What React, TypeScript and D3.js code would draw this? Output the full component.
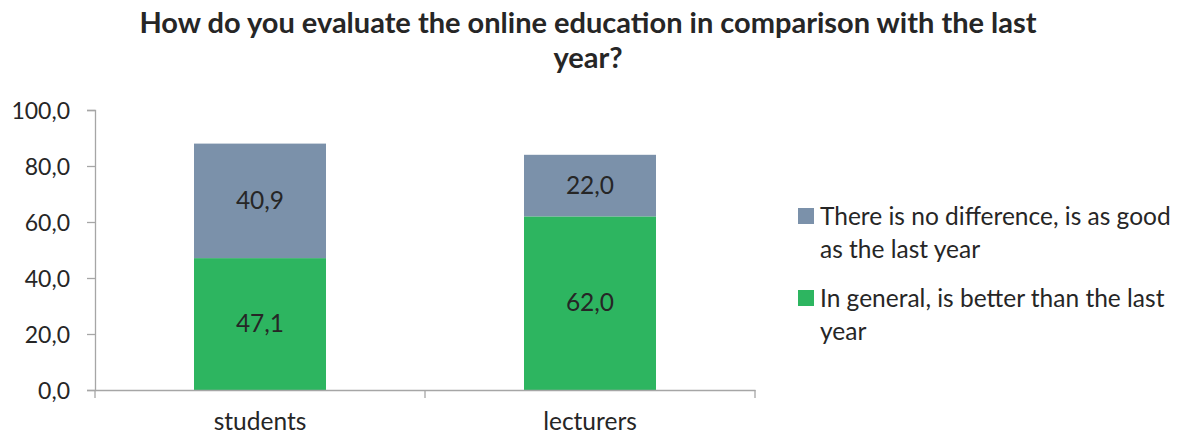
import { useEffect, useRef } from 'react'
import * as d3 from 'd3'

const categories = ['students', 'lecturers']
const betterValues = [47.1, 62.0]
const sameValues = [40.9, 22.0]
const yTicks = [0, 20, 40, 60, 80, 100]
const seriesNames = [
  ['There is no difference, is as good', 'as the last year'],
  ['In general, is better than the last', 'year'],
]
const titleLines = ['How do you evaluate the online education in comparison with the last', 'year?']

const W = 1181
const H = 436
const FONT = 'Lato, "Open Sans", sans-serif'
const BLUE = '#7b91aa'
const GREEN = '#2db560'
const TEXT = '#262626'

export default function App() {
  const svgRef = useRef<SVGSVGElement>(null)

  useEffect(() => {
    if (!svgRef.current) return
    const svg = d3.select(svgRef.current)
    svg.selectAll('*').remove()

    const left = 95
    const right = 755
    const top = 110
    const bottom = 390

    const fmt = (v: number) => v.toFixed(1).replace('.', ',')

    const x = d3.scaleBand<string>().domain(categories).range([left, right]).paddingInner(0).paddingOuter(0)
    const y = d3.scaleLinear().domain([0, 100]).range([bottom, top])
    const barW = x.bandwidth() * 0.4

    // title
    svg.append('g')
      .selectAll('text')
      .data(titleLines)
      .join('text')
      .attr('x', 588)
      .attr('y', (_, i) => 33 + i * 35)
      .attr('text-anchor', 'middle')
      .attr('font-family', FONT)
      .attr('font-weight', 'bold')
      .attr('font-size', 29)
      .attr('fill', TEXT)
      .text(d => d)

    // bars
    const stacks = categories.map((c, i) => ({ c, better: betterValues[i], same: sameValues[i] }))
    const g = svg.append('g')
    stacks.forEach(d => {
      const bx = x(d.c)! + (x.bandwidth() - barW) / 2
      g.append('rect')
        .attr('x', bx).attr('width', barW)
        .attr('y', y(d.better)).attr('height', y(0) - y(d.better))
        .attr('fill', GREEN)
      g.append('rect')
        .attr('x', bx).attr('width', barW)
        .attr('y', y(d.better + d.same)).attr('height', y(d.better) - y(d.better + d.same))
        .attr('fill', BLUE)
      const cx = x(d.c)! + x.bandwidth() / 2
      g.append('text')
        .attr('x', cx).attr('y', y(d.better / 2) + 8)
        .attr('text-anchor', 'middle')
        .attr('font-family', FONT).attr('font-size', 24.5).attr('fill', TEXT)
        .text(fmt(d.better))
      g.append('text')
        .attr('x', cx).attr('y', y(d.better + d.same / 2) + 8)
        .attr('text-anchor', 'middle')
        .attr('font-family', FONT).attr('font-size', 24.5).attr('fill', TEXT)
        .text(fmt(d.same))
    })

    // y axis
    const yAxis = svg.append('g')
      .attr('transform', `translate(${left},0)`)
      .call(d3.axisLeft(y).tickValues(yTicks).tickSize(8).tickPadding(17).tickFormat(d => fmt(d as number)))
    yAxis.select('.domain').attr('stroke', '#a6a6a6').attr('stroke-width', 1.3)
    yAxis.selectAll('.tick line').attr('stroke', '#a6a6a6').attr('stroke-width', 1.3)
    yAxis.selectAll('.tick text')
      .attr('font-family', FONT).attr('font-size', 23).attr('fill', TEXT)
      .attr('dy', '0.35em')

    // x axis
    const xAxis = svg.append('g')
      .attr('transform', `translate(0,${bottom})`)
      .call(d3.axisBottom(x).tickSize(0).tickPadding(23))
    xAxis.select('.domain').attr('stroke', '#a6a6a6').attr('stroke-width', 1.3)
    xAxis.selectAll('.tick text')
      .attr('font-family', FONT).attr('font-size', 24.5).attr('fill', TEXT)
    // category boundary ticks
    xAxis.append('g')
      .selectAll('line')
      .data([left, ...categories.map(c => x(c)! + x.bandwidth())])
      .join('line')
      .attr('x1', d => d).attr('x2', d => d)
      .attr('y1', 0).attr('y2', 8)
      .attr('stroke', '#a6a6a6').attr('stroke-width', 1.3)

    // legend
    const legendColors = [BLUE, GREEN]
    const lg = svg.append('g')
    seriesNames.forEach((lines, i) => {
      const ly = 216 + i * 82
      lg.append('rect')
        .attr('x', 798).attr('y', ly - 8).attr('width', 16).attr('height', 16)
        .attr('fill', legendColors[i])
      lines.forEach((t, j) => {
        lg.append('text')
          .attr('x', 820).attr('y', ly + 9 + j * 33)
          .attr('font-family', FONT).attr('font-size', 24.5).attr('fill', TEXT)
          .text(t)
      })
    })
  }, [])

  return (
    <svg ref={svgRef} width={W} height={H} style={{ position: 'absolute', left: 0, top: 0, background: '#fff' }} />
  )
}
